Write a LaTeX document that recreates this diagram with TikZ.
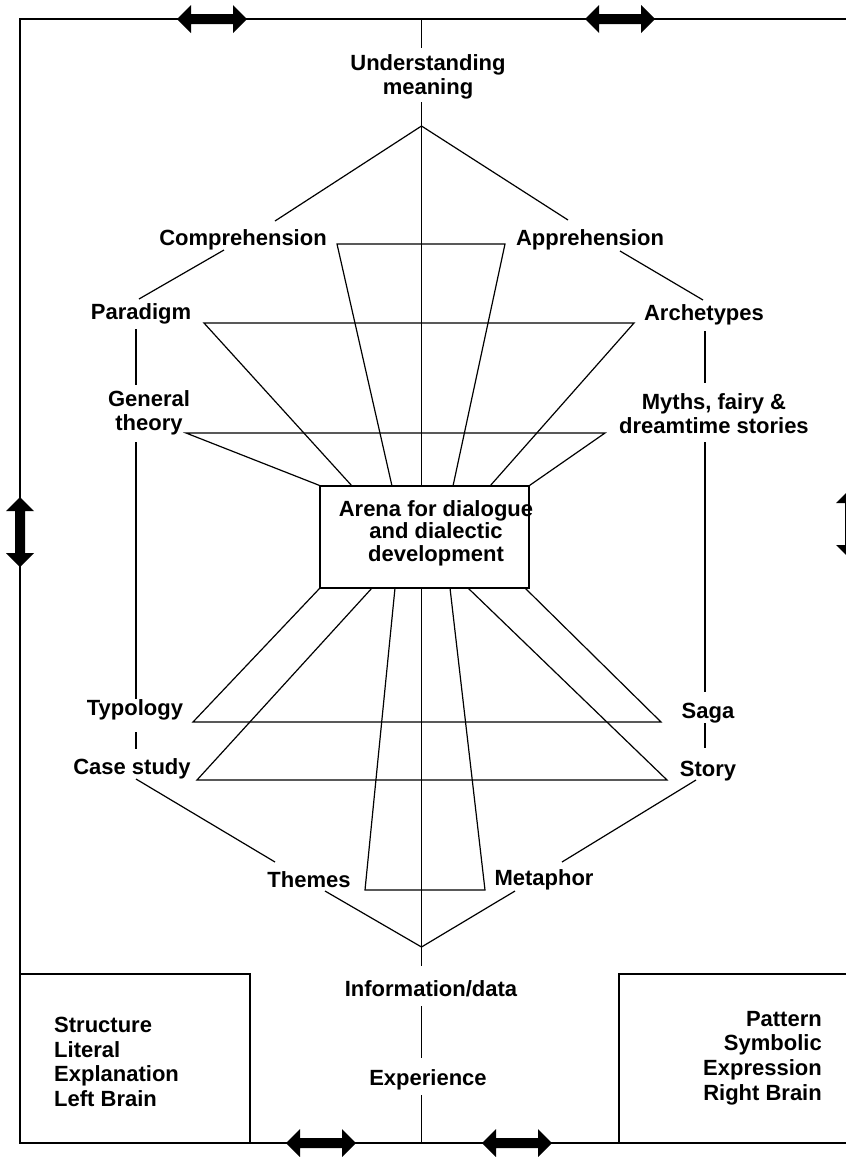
\documentclass[tikz,border=0pt]{standalone}
\usepackage{fontspec}
\setmainfont{Liberation Sans}
\begin{document}
\begin{tikzpicture}[x=1pt,y=-1pt,
  lbl/.style={font=\fontsize{22}{24}\selectfont\bfseries, inner sep=0pt, align=center},
  lblL/.style={font=\fontsize{22}{24.7}\selectfont\bfseries, inner sep=0pt, align=left},
  lblR/.style={font=\fontsize{22}{24.7}\selectfont\bfseries, inner sep=0pt, align=right},
  ln/.style={line width=1.2pt, line join=miter},
  framed/.style={line width=1.6pt},
  dblarrow/.pic={\fill (-35,0) -- (-21,-14) -- (-21,-5) -- (21,-5) -- (21,-14) -- (35,0) -- (21,14) -- (21,5) -- (-21,5) -- (-21,14) -- cycle;}
]
\clip (0,0) rectangle (846,1157);
\fill[white] (0,0) rectangle (846,1157);

% outer frame
\coordinate (FTL) at (20,19);
\coordinate (FTR) at (850,19);
\coordinate (FBR) at (850,1143);
\coordinate (FBL) at (20,1143);
\draw[framed] (FTL) -- (FTR) -- (FBR) -- (FBL) -- cycle;

% double arrows on the frame
\pic at (212,19) {dblarrow};
\pic at (620,19) {dblarrow};
\pic at (321,1143) {dblarrow};
\pic at (517,1143) {dblarrow};
\pic[rotate=90] at (20,532) {dblarrow};
\pic[rotate=90] at (850,524) {dblarrow};

% bottom boxes
\coordinate (LB1) at (20,974);
\coordinate (LB2) at (250,974);
\coordinate (LB3) at (250,1143);
\draw[framed] (LB1) -- (LB2) -- (LB3);
\coordinate (RB1) at (850,974);
\coordinate (RB2) at (619,974);
\coordinate (RB3) at (619,1143);
\draw[framed] (RB1) -- (RB2) -- (RB3);

% text nodes
\node[lbl] (und) at (428,77) {Understanding\\meaning};
\node[lbl] (comp) at (243,240) {Comprehension};
\node[lbl] (appr) at (590,240) {Apprehension};
\node[lbl] (para) at (141,314) {Paradigm};
\node[lbl] (arch) at (704,315) {Archetypes};
\node[lbl] (gen) at (149,413) {General\\theory};
\node[lbl] (myth) at (714,414) {Myths, fairy \&\\dreamtime stories};
\node[lbl] (typo) at (135,710) {Typology};
\node[lbl] (saga) at (708,713) {Saga};
\node[lbl] (case) at (132,769) {Case study};
\node[lbl] (story) at (708,771) {Story};
\node[lbl] (themes) at (309,880) {Themes};
\node[lbl] (meta) at (544,880) {Metaphor};
\node[lbl] (info) at (431,989) {Information/data};
\node[lbl] (exp) at (428,1080) {Experience};
\node[lblL, anchor=west] (leftb) at (54,1062) {Structure\\Literal\\Explanation\\Left Brain};
\node[lblR, anchor=east] (rightb) at (822,1058) {Pattern\\Symbolic\\Expression\\Right Brain};

% central arena
\node[draw, ln, minimum width=209pt, minimum height=102pt, inner sep=0pt] (arena) at (424.5,537) {};
\node[lbl, font=\fontsize{22}{22.5}\selectfont\bfseries] (arenatxt) at (436,533) {Arena for dialogue\\and dialectic\\development};

% central axis
\coordinate (ax0) at (421.5,19);
\coordinate (ax1) at (421.5,48);
\coordinate (ax2) at (421.5,102);
\coordinate (apexT) at (421.5,126);
\coordinate (ax3) at (421.5,486);
\coordinate (ax4) at (421.5,588);
\coordinate (apexB) at (421.5,947);
\coordinate (ax5) at (421.5,966);
\coordinate (ax6) at (421.5,1006);
\coordinate (ax7) at (421.5,1058);
\coordinate (ax8) at (421.5,1095);
\coordinate (ax9) at (421.5,1143);
\draw[ln] (ax0) -- (ax1);
\draw[ln] (ax2) -- (ax3);
\draw[ln] (ax4) -- (ax5);
\draw[ln] (ax6) -- (ax7);
\draw[ln] (ax8) -- (ax9);

% upper diamond sides
\coordinate (compT) at (275,221);
\coordinate (apprT) at (568,220);
\coordinate (compB) at (224,250);
\coordinate (paraT) at (139,299);
\coordinate (apprB) at (620,251);
\coordinate (archT) at (703,300);
\draw[ln] (compT) -- (apexT) -- (apprT);
\draw[ln] (compB) -- (paraT);
\draw[ln] (apprB) -- (archT);

% left and right verticals
\coordinate (L1) at (136,329);  \coordinate (L2) at (136,385);
\coordinate (L3) at (136,442);  \coordinate (L4) at (136,699);
\coordinate (L5) at (136,732);  \coordinate (L6) at (136,749);
\coordinate (R1) at (705,331);  \coordinate (R2) at (705,383);
\coordinate (R3) at (705,442);  \coordinate (R4) at (705,692);
\coordinate (R5) at (705,723);  \coordinate (R6) at (705,748);
\draw[ln] (L1) -- (L2);
\draw[ln] (L3) -- (L4);
\draw[ln] (L5) -- (L6);
\draw[ln] (R1) -- (R2);
\draw[ln] (R3) -- (R4);
\draw[ln] (R5) -- (R6);

% funnels into the arena (top)
\coordinate (compHL) at (337,244);
\coordinate (compHR) at (505,244);
\coordinate (arT1) at (392,486);
\coordinate (arT2) at (453,486);
\draw[ln] (arT1) -- (compHL) -- (compHR) -- (arT2);

\coordinate (paraHL) at (204,323);
\coordinate (paraHR) at (634,323);
\coordinate (arT3) at (352,486);
\coordinate (arT4) at (490,486);
\draw[ln] (arT3) -- (paraHL) -- (paraHR) -- (arT4);

\coordinate (genHL) at (186,433);
\coordinate (genHR) at (605,433);
\draw[ln] (arena.north west) -- (genHL) -- (genHR) -- (arena.north east);

% funnels out of the arena (bottom)
\coordinate (typHL) at (193,722);
\coordinate (typHR) at (661,722);
\coordinate (arB1) at (525,588);
\draw[ln] (arena.south west) -- (typHL) -- (typHR) -- (arB1);

\coordinate (caseHL) at (197,780);
\coordinate (caseHR) at (667,780);
\coordinate (arB2) at (372,588);
\coordinate (arB3) at (468,588);
\draw[ln] (arB2) -- (caseHL) -- (caseHR) -- (arB3);

\coordinate (arB4) at (395,588);
\coordinate (arB5) at (450,588);
\coordinate (trBL) at (365,890);
\coordinate (trBR) at (485,890);
\draw[ln] (arB4) -- (trBL) -- (trBR) -- (arB5);

% lower diamond sides
\coordinate (caseB) at (136,779);
\coordinate (themT) at (275,862);
\coordinate (storyB) at (696,780);
\coordinate (metaT) at (562,862);
\coordinate (themB) at (325,891);
\coordinate (metaB) at (515,891);
\draw[ln] (caseB) -- (themT);
\draw[ln] (storyB) -- (metaT);
\draw[ln] (themB) -- (apexB) -- (metaB);
\end{tikzpicture}
\end{document}
